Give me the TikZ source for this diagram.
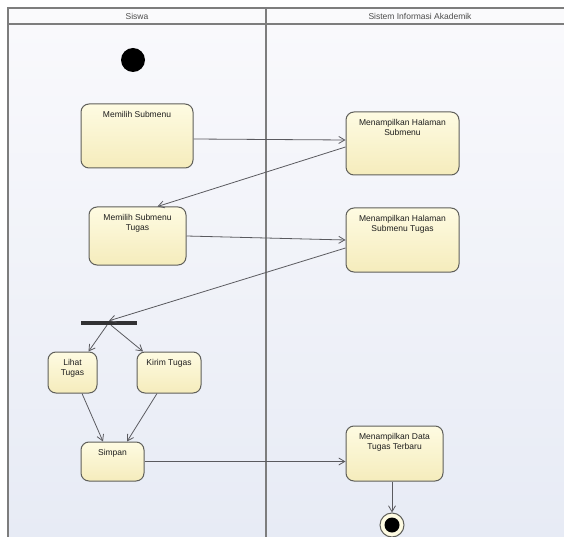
\documentclass[tikz,border=0pt]{standalone}
\usepackage{fontspec}
\setmainfont{Liberation Sans}
\usetikzlibrary{arrows.meta}

\definecolor{lanetop}{RGB}{249,249,252}
\definecolor{lanebot}{RGB}{231,235,245}
\definecolor{headbg}{RGB}{250,250,252}
\definecolor{framegray}{RGB}{125,125,125}
\definecolor{boxtop}{RGB}{254,251,226}
\definecolor{boxbot}{RGB}{245,236,188}
\definecolor{boxline}{RGB}{95,95,90}
\definecolor{arrowgray}{RGB}{90,90,95}
\definecolor{forkgray}{RGB}{50,50,52}
\definecolor{txtdark}{RGB}{30,30,30}

% top-aligned, centred caption inside an activity box of width #1 and height #2
\newcommand\acttxt[3]{\parbox[c][#2][t]{#1}{\centering\vspace*{7.5pt}#3\par}}

\tikzset{
  frameline/.style={draw=framegray, line width=1.4pt},
  lanehead/.style={font=\fontsize{8.5}{10}\selectfont, text=black!70, inner sep=0pt},
  act/.style={rectangle, rounded corners=8pt, draw=boxline, line width=1pt,
    top color=boxtop, bottom color=boxbot, inner sep=0pt,
    font=\fontsize{8.5}{10}\selectfont, text=txtdark},
  conn/.style={draw=arrowgray, line width=0.8pt,
    -{Straight Barb[length=6pt,width=7pt,line width=0.8pt]}},
}

\begin{document}
\begin{tikzpicture}[x=1pt,y=-1pt]
\useasboundingbox (0,0) rectangle (564,537);
\fill[white] (0,0) rectangle (564,537);

% swimlane frame
\shade[top color=lanetop, bottom color=lanebot] (8,24) rectangle (564,537);
\fill[headbg] (8,8) rectangle (564,24);
\draw[frameline] (564,8) -- (8,8) -- (8,537);
\draw[frameline] (8,24) -- (564,24);
\draw[frameline] (266,8) -- (266,537);
\node[lanehead] (laneA) at (137,16) {Siswa};
\node[lanehead] (laneB) at (420,16) {Sistem Informasi Akademik};

% initial node
\node[circle, fill=black, minimum size=24pt, inner sep=0pt] (start) at (133,60) {};

% activities
\node[act] (ms)   at (137,136)   {\acttxt{112pt}{64pt}{Memilih Submenu}};
\node[act] (mht)  at (137.5,236) {\acttxt{97pt}{58pt}{Memilih Submenu\\Tugas}};
\node[act] (mhs)  at (402.5,143.5) {\acttxt{113pt}{63pt}{Menampilkan Halaman\\Submenu}};
\node[act] (mhst) at (402.5,240) {\acttxt{113pt}{64pt}{Menampilkan Halaman\\Submenu Tugas}};
\node[act] (lihat) at (72.5,372.5) {\acttxt{49pt}{41pt}{Lihat\\Tugas}};
\node[act] (kirim) at (169,372.5) {\acttxt{64pt}{41pt}{Kirim Tugas}};
\node[act] (simpan) at (112.5,461.5) {\acttxt{63pt}{39pt}{Simpan}};
\node[act] (mdt)  at (394.5,453.5) {\acttxt{97pt}{55pt}{Menampilkan Data\\Tugas Terbaru}};

% fork bar
\node[fill=forkgray, minimum width=56pt, minimum height=4pt, inner sep=0pt] (fork) at (109,323) {};

% final node
\node[circle, draw=boxline, line width=1pt, fill=boxtop, minimum size=24pt, inner sep=0pt] (fin) at (392,525) {};
\node[circle, fill=black, minimum size=15pt, inner sep=0pt] (finin) at (fin) {};

% control flows
\draw[conn] ([yshift=-3pt]ms.east) -- ([yshift=3.5pt]mhs.west);
\draw[conn] ([yshift=-3.5pt]mhs.west) -- ([xshift=20pt]mht.north);
\draw[conn] (mht.east) -- (mhst.west);
\draw[conn] ([yshift=-8pt]mhst.west) -- (fork.north);
\draw[conn] ([xshift=-2pt]fork.south) -- ([xshift=16pt]lihat.north);
\draw[conn] ([xshift=2pt]fork.south) -- ([xshift=-26pt]kirim.north);
\draw[conn] ([xshift=9.5pt]lihat.south) -- ([xshift=-9.5pt]simpan.north);
\draw[conn] ([xshift=-12pt]kirim.south) -- ([xshift=14.5pt]simpan.north);
\draw[conn] (simpan.east) -- (simpan.east -| mdt.west);
\draw[conn] (mdt.south -| fin.north) -- (fin.north);
\end{tikzpicture}
\end{document}
